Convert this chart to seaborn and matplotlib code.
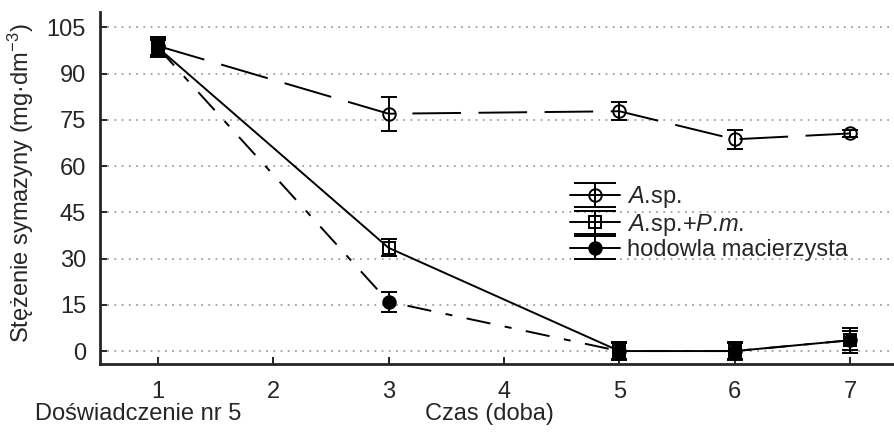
import numpy as np
import pandas as pd
import matplotlib
matplotlib.use("Agg")
import matplotlib.pyplot as plt
import seaborn as sns
from matplotlib.lines import Line2D
from matplotlib.collections import LineCollection
from matplotlib.container import ErrorbarContainer

# ---- data ----
days = [1, 3, 5, 6, 7]
series_names = ["$\\mathit{A}$.sp.", "$\\mathit{A}$.sp.+$\\mathit{P}$.$\\mathit{m}$.", "hodowla macierzysta"]
asp_vals = [99.0, 77.0, 77.8, 68.7, 70.6]
asp_err = [3.0, 5.5, 3.0, 3.0, 1.0]
asppm_vals = [98.5, 33.5, 0.0, 0.0, 3.5]
asppm_err = [3.0, 2.8, 3.0, 3.0, 4.0]
hod_vals = [98.5, 16.0, 0.0, 0.0, 3.5]
hod_err = [2.5, 3.3, 2.5, 2.5, 3.0]
yticks = [0, 15, 30, 45, 60, 75, 90, 105]
xticks = [1, 2, 3, 4, 5, 6, 7]

sns.set_style("ticks")
plt.rcParams["font.family"] = ["Liberation Sans", "DejaVu Sans"]
plt.rcParams["mathtext.fontset"] = "custom"
plt.rcParams["mathtext.rm"] = "Liberation Sans"
plt.rcParams["mathtext.it"] = "Liberation Sans:italic"
plt.rcParams["mathtext.default"] = "regular"

FS = 17
fig = plt.figure(figsize=(8.94, 4.43), dpi=100)
ax = fig.add_axes([100 / 894, (443 - 364) / 443, 794 / 894, (364 - 12) / 443])

df = pd.DataFrame({
    "day": days * 3,
    "val": asp_vals + asppm_vals + hod_vals,
    "series": [series_names[0]] * 5 + [series_names[1]] * 5 + [series_names[2]] * 5,
})

lw = 1.4
styles = [
    dict(marker="o", mfc="none", dashes=(25, 9)),
    dict(marker="s", mfc="none", dashes=None),
    dict(marker="o", mfc="black", dashes=(12.5, 7.5, 3.6, 7.5)),
]
errs = [asp_err, asppm_err, hod_err]
msizes = [9, 8.5, 9]

handles = []
for i, name in enumerate(series_names):
    sub = df[df.series == name]
    st = styles[i]
    sns.lineplot(data=sub, x="day", y="val", ax=ax, color="black", lw=lw,
                 marker=st["marker"], markersize=msizes[i],
                 markerfacecolor=st["mfc"], markeredgecolor="black",
                 markeredgewidth=1.4, legend=False, zorder=3 + i)
    line = ax.lines[-1]
    if st["dashes"] is not None:
        line.set_dashes(st["dashes"])
    ax.errorbar(sub["day"], sub["val"], yerr=errs[i], fmt="none",
                ecolor="black", elinewidth=1.4, capsize=5.5, capthick=1.4,
                zorder=3 + i)
    # legend proxy
    pl = Line2D([], [], color="black", lw=lw, marker=st["marker"],
                markersize=msizes[i], markerfacecolor=st["mfc"],
                markeredgecolor="black", markeredgewidth=1.4)
    cap1 = Line2D([], [], color="black", marker="_", markersize=30, markeredgewidth=1.4, ls="none")
    cap2 = Line2D([], [], color="black", marker="_", markersize=30, markeredgewidth=1.4, ls="none")
    lc = LineCollection([], colors="black", linewidths=1.4)
    handles.append(ErrorbarContainer((pl, (cap1, cap2), (lc,)), has_xerr=False, has_yerr=True))

ax.set_xlim(0.5, 7.38)
ax.set_ylim(-4.2, 110)
ax.set_xticks(xticks)
ax.set_yticks(yticks)
ax.set_xticklabels([str(t) for t in xticks], fontsize=FS)
ax.set_yticklabels([str(t) for t in yticks], fontsize=FS)
ax.tick_params(axis="both", direction="in", length=5, width=1.2, color="black")
ax.tick_params(axis="y", pad=10)
ax.tick_params(axis="x", pad=12)
ax.yaxis.grid(True, linestyle=(0, (1, 3)), color="#a0a0a0", lw=1.3)
ax.set_axisbelow(True)
for s in ["top", "right"]:
    ax.spines[s].set_visible(False)
ax.spines["left"].set_linewidth(2)
ax.spines["bottom"].set_linewidth(2)
ax.set_xlabel("")
ax.set_ylabel("")

fig.text(21 / 894, 1 - 183 / 443, "Stężenie symazyny (mg·dm$^{-3}$)", fontsize=FS,
         rotation=90, ha="center", va="center")

leg = ax.legend(handles, series_names, loc="upper left",
                bbox_to_anchor=(0.5925, 0.51), frameon=False, fontsize=FS,
                borderaxespad=0, borderpad=0, handlelength=2.1,
                handletextpad=0.3, labelspacing=0.05)

fig.text(35 / 894, 1 - 414 / 443, "Doświadczenie nr 5", fontsize=FS, ha="left", va="center")
fig.text(489 / 894, 1 - 414 / 443, "Czas (doba)", fontsize=FS, ha="center", va="center")

fig.savefig("out.png", dpi=100)
